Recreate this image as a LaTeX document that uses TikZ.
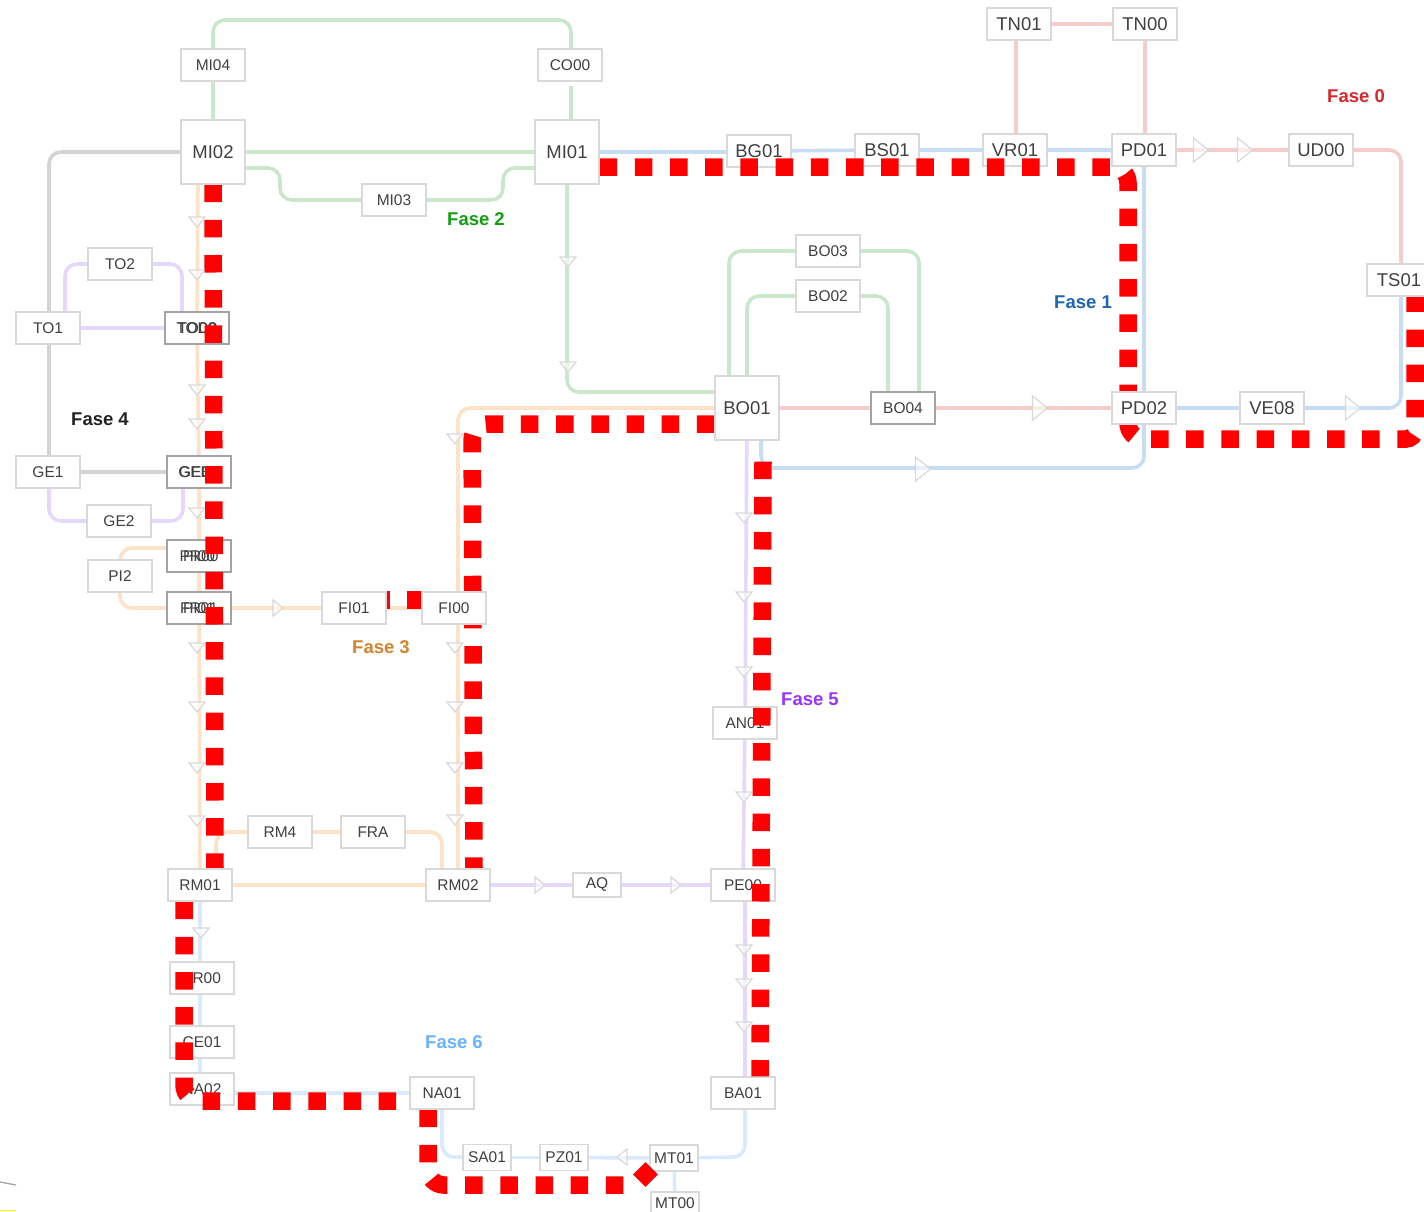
\documentclass[tikz,border=0pt]{standalone}
\usepackage{fontspec}
\setmainfont{Liberation Sans}
\definecolor{boxgray}{HTML}{D9D9D9}
\definecolor{boxdark}{HTML}{A3A3A3}
\definecolor{textgray}{HTML}{404040}
\definecolor{linegreen}{HTML}{CBE7CB}
\definecolor{lineblue}{HTML}{C6DDF4}
\definecolor{linepink}{HTML}{F5CCCC}
\definecolor{lineorange}{HTML}{FDE2C8}
\definecolor{linepurple}{HTML}{E6D8FC}
\definecolor{linegray}{HTML}{D4D4D4}
\definecolor{linesky}{HTML}{D9EAFC}
\pgfdeclarelayer{edges}
\pgfdeclarelayer{top}
\pgfsetlayers{edges,main,top}
\tikzset{
  flowbox/.style={draw=boxgray,fill=white,line width=1.2pt,minimum width=64pt,minimum height=32pt,inner sep=0pt,text=textgray,font=\fontsize{15.5}{18}\selectfont},
  bigbox/.style={flowbox,font=\fontsize{18.5}{22}\selectfont},
  tallbox/.style={bigbox,minimum height=64pt},
  narrowbox/.style={flowbox,minimum width=48pt,minimum height=26pt},
  stackbox/.style={flowbox,draw=boxdark},
  stacktext/.style={flowbox,draw=boxdark,fill=none},
  flowedge/.style={line width=3.6pt,rounded corners=12pt},
  flowpath/.style={draw=red,line width=17.5pt,dash pattern=on 17.5pt off 17.7pt,rounded corners=16pt},
  phaselabel/.style={font=\fontsize{18.5}{22}\selectfont\bfseries,inner sep=0pt},
  flowtri/.pic={\draw[draw=boxgray,line width=1.2pt,fill=white,fill opacity=0.6] (-8,-5) -- (8,-5) -- (0,5) -- cycle;}
}

\begin{document}
\begin{tikzpicture}[x=1pt,y=-1pt]
    \useasboundingbox (0,0) rectangle (1424,1211);

    % -- Boxes the highlighted route runs over --
    \node[narrowbox,minimum height=23pt] (mt00) at (675,1203.5) {MT00};
    \node[flowbox] (mi04) at (213,65) {MI04};
    \node[flowbox] (co00) at (570,65) {CO00};
    \node[flowbox] (mi03) at (394,200) {MI03};
    \node[bigbox] (tn01) at (1019,24) {TN01};
    \node[bigbox] (tn00) at (1145,24) {TN00};
    \node[bigbox] (bg01) at (759,151) {BG01};
    \node[bigbox] (bs01) at (887,150) {BS01};
    \node[bigbox] (vr01) at (1015,150) {VR01};
    \node[bigbox] (ud00) at (1321,150) {UD00};
    \node[bigbox] (ve08) at (1272,408) {VE08};
    \node[flowbox] (bo03) at (828,251) {BO03};
    \node[flowbox] (bo02) at (828,296) {BO02};
    \node[stackbox] (bo04) at (903,408) {BO04};
    \node[flowbox] (to2) at (120,264) {TO2};
    \node[flowbox] (to1) at (48,328) {TO1};
    \node[stackbox] (to00) at (197,328) {TO00};
    \node[stacktext] (tod0) at (197,328) {TOD0};
    \node[flowbox] (ge1) at (48,472) {GE1};
    \node[flowbox] (ge2) at (119,521) {GE2};
    \node[stackbox] (ge00) at (199,472) {GE00};
    \node[stacktext] (ge0e) at (199,472) {GEE0};
    \node[flowbox] (pi2) at (120,576) {PI2};
    \node[stackbox] (pi00) at (199,556) {PI00};
    \node[stacktext] (pr00) at (199,556) {PR00};
    \node[stackbox] (pi01) at (199,608) {PI01};
    \node[stacktext] (fr01) at (199,608) {FR01};
    \node[flowbox] (rm4) at (280,832) {RM4};
    \node[flowbox] (fra) at (373,832) {FRA};
    \node[narrowbox,minimum height=24pt] (aq) at (597,885) {AQ};
    \node[flowbox] (an01) at (745,723) {AN01};
    \node[flowbox] (pe00) at (743,885) {PE00};
    \node[flowbox] (fr00) at (202,978) {FR00};
    \node[flowbox] (ce01) at (202,1042) {CE01};
    \node[flowbox] (na02) at (202,1089) {NA02};
    \node[flowbox] (ba01) at (743,1093) {BA01};
    \node[narrowbox] (sa01) at (487,1157.5) {SA01};
    \node[narrowbox] (pz01) at (564,1157.5) {PZ01};
    \node[narrowbox] (mt01) at (674,1158) {MT01};

    % -- Boxes that sit over the route --
    \begin{pgfonlayer}{top}
    \node[tallbox] (mi02) at (213,152) {MI02};
    \node[tallbox] (mi01) at (567,152) {MI01};
    \node[tallbox] (bo01) at (747,408) {BO01};
    \node[bigbox] (pd01) at (1144,150) {PD01};
    \node[bigbox] (pd02) at (1144,408) {PD02};
    \node[bigbox] (ts01) at (1399,280) {TS01};
    \node[flowbox] (fi01) at (354,608) {FI01};
    \node[flowbox] (fi00) at (454,608) {FI00};
    \node[flowbox] (rm01) at (200,885) {RM01};
    \node[flowbox] (rm02) at (458,885) {RM02};
    \node[flowbox] (na01) at (442,1093) {NA01};
    \end{pgfonlayer}

    % -- Phase labels --
    \node[phaselabel,text={rgb,255:red,217;green,38;blue,44}] (fase0) at (1356,96) {Fase 0};
    \node[phaselabel,text={rgb,255:red,31;green,102;blue,176}] (fase1) at (1083,302) {Fase 1};
    \node[phaselabel,text={rgb,255:red,18;green,160;blue,18}] (fase2) at (476,219) {Fase 2};
    \node[phaselabel,text={rgb,255:red,217;green,130;blue,43}] (fase3) at (381,647) {Fase 3};
    \node[phaselabel,text={rgb,255:red,34;green,34;blue,34}] (fase4) at (100,419) {Fase 4};
    \node[phaselabel,text={rgb,255:red,153;green,51;blue,255}] (fase5) at (810,699) {Fase 5};
    \node[phaselabel,text={rgb,255:red,102;green,178;blue,255}] (fase6) at (454,1042) {Fase 6};

    \begin{pgfonlayer}{edges}
    % -- Fase 2 --
    \draw[flowedge,linegreen] (mi02) -- (mi04) -- (213,20) -- (571,20) -- ([xshift=1pt]co00.north);
    \draw[flowedge,linegreen] ([xshift=1pt,yshift=-4pt]co00.south) -- ([xshift=4pt]mi01.north);
    \draw[flowedge,linegreen] (mi02) -- (mi01);
    \draw[flowedge,linegreen] ([yshift=-16pt]mi02.east) -- (280,168) -- (280,200) -- (mi03);
    \draw[flowedge,linegreen] (mi03) -- (503,200) -- (503,168) -- ([yshift=-16pt]mi01.west);
    \draw[flowedge,linegreen] (mi01) -- (567,392) -- ([yshift=16pt]bo01.west);
    \draw[flowedge,linegreen] ([xshift=-18pt]bo01.north) -- (729,251) -- (bo03);
    \draw[flowedge,linegreen] (bo03) -- (919,251) -- ([xshift=16pt]bo04.north);
    \draw[flowedge,linegreen] (bo01) -- (747,296) -- (bo02);
    \draw[flowedge,linegreen] (bo02) -- (888,296) -- ([xshift=-15pt]bo04.north);

    % -- Fase 1 --
    \draw[flowedge,lineblue] (mi01) -- ([yshift=-1pt]bg01.west);
    \draw[flowedge,lineblue] (bg01) -- (bs01);
    \draw[flowedge,lineblue] (bs01) -- (vr01);
    \draw[flowedge,lineblue] (vr01) -- (pd01);
    \draw[flowedge,lineblue] (pd01) -- (pd02);
    \draw[flowedge,lineblue] (pd02) -- (ve08);
    \draw[flowedge,lineblue] (ve08) -- (1401,408) -- ([xshift=2pt]ts01.south);
    \draw[flowedge,lineblue] ([xshift=14pt]bo01.south) -- (761,468) -- (1144,468) -- (pd02);

    % -- Fase 0 --
    \draw[flowedge,linepink] (tn01) -- (tn00);
    \draw[flowedge,linepink] ([xshift=-3pt]tn01.south) -- ([xshift=1pt]vr01.north);
    \draw[flowedge,linepink] (tn00) -- ([xshift=1pt]pd01.north);
    \draw[flowedge,linepink] (pd01) -- (ud00);
    \draw[flowedge,linepink] (ud00) -- (1401,150) -- ([xshift=2pt]ts01.north);
    \draw[flowedge,linepink] (bo01) -- (bo04);
    \draw[flowedge,linepink] (bo04) -- (pd02);

    % -- Fase 3 --
    \draw[flowedge,lineorange] ([xshift=-15pt]mi02.south) -- (to00) -- (ge00) -- (pi00) -- (pi01) -- (rm01);
    \draw[flowedge,lineorange] ([yshift=8pt]pi00.west) -- (120,548) -- (pi2);
    \draw[flowedge,lineorange] (pi2) -- (120,608) -- (pi01);
    \draw[flowedge,lineorange] (pi01) -- (fi01);
    \draw[flowedge,lineorange] (fi01) -- (fi00);
    \draw[flowedge,lineorange] (bo01) -- (458,408) -- ([xshift=4pt]fi00.north);
    \draw[flowedge,lineorange] ([xshift=4pt]fi00.south) -- (rm02);
    \draw[flowedge,lineorange] (rm01) -- (rm02);
    \draw[flowedge,lineorange] ([xshift=16pt]rm01.north) -- (216,832) -- (rm4);
    \draw[flowedge,lineorange] (rm4) -- (fra);
    \draw[flowedge,lineorange] (fra) -- (442,832) -- ([xshift=-16pt]rm02.north);

    % -- Fase 4 --
    \draw[flowedge,linegray] (mi02) -- (49,152) -- ([xshift=1pt]to1.north);
    \draw[flowedge,linegray] ([xshift=1pt]to1.south) -- ([xshift=1pt]ge1.north);
    \draw[flowedge,linegray] (ge1) -- (ge00);
    \draw[flowedge,linepurple] (to1) -- (to00);
    \draw[flowedge,linepurple] ([xshift=17pt]to1.north) -- (65,264) -- (to2);
    \draw[flowedge,linepurple] (to2) -- (182,264) -- ([xshift=-15pt]to00.north);
    \draw[flowedge,linepurple] ([xshift=1pt]ge1.south) -- (49,521) -- (ge2);
    \draw[flowedge,linepurple] (ge2) -- (183,521) -- ([xshift=-16pt]ge00.south);

    % -- Fase 5 --
    \draw[flowedge,linepurple] (rm02) -- (aq);
    \draw[flowedge,linepurple] (aq) -- (pe00);
    \draw[flowedge,linepurple] (bo01) -- (an01);
    \draw[flowedge,linepurple] (an01) -- (pe00);
    \draw[flowedge,linepurple] ([xshift=2pt]pe00.south) -- ([xshift=2pt]ba01.north);

    % -- Fase 6 --
    \draw[flowedge,linesky] (rm01) -- ([xshift=-2pt]fr00.north);
    \draw[flowedge,linesky] ([xshift=-2pt]fr00.south) -- ([xshift=-2pt]ce01.north);
    \draw[flowedge,linesky] ([xshift=-2pt]ce01.south) -- ([xshift=-2pt]na02.north);
    \draw[flowedge,linesky] ([yshift=-4pt]na02.east) -- (na01);
    \draw[flowedge,linesky] ([xshift=2pt]ba01.south) -- (745,1157) -- (mt01);
    \draw[flowedge,linesky] (mt01) -- (pz01);
    \draw[flowedge,linesky] (pz01) -- (sa01);
    \draw[flowedge,linesky] (sa01) -- (442,1157) -- (na01);
    \draw[flowedge,linesky] (mt01) -- (mt00);

    % -- Flow markers --
    \foreach \ypos in {222,275,390,424,513,648,707,768,821}
      \pic at (197,\ypos) {flowtri};
    \foreach \ypos in {439,648,707,768,820}
      \pic at (455,\ypos) {flowtri};
    \foreach \ypos in {262,367}
      \pic at (568,\ypos) {flowtri};
    \foreach \ypos in {518,597,672,797,950,984,1027}
      \pic at (744,\ypos) {flowtri};
    \pic at (201,933) {flowtri};
    \foreach \xpos/\ypos in {278/608,540/885,676/885}
      \pic[rotate=90] at (\xpos,\ypos) {flowtri};
    \pic[rotate=-90] at (622,1157) {flowtri};
    \foreach \xpos/\ypos in {923/469,1040/408,1353/408,1201/150,1245/150}
      \pic[rotate=90,scale=1.5] at (\xpos,\ypos) {flowtri};
    \end{pgfonlayer}

    % -- Highlighted route --
    \draw[flowpath] ([yshift=-15pt]mi01.east) -- (1128,167) -- (1128,439) [rounded corners=9pt] -- (1415,439) -- ([xshift=16pt]ts01.south);
    \draw[flowpath] (mi02.south) -- ([xshift=15pt]rm01.north);
    \draw[flowpath] ([yshift=-16pt]bo01.west) -- (472,424) -- ([xshift=16pt]rm02.north);
    \draw[flowpath] ([xshift=16pt,yshift=-21pt]bo01.south) -- ([xshift=17pt]ba01.north);
    \draw[flowpath] ([xshift=-16pt]rm01.south) -- (184,1101) -- ([yshift=-8pt]na01.west);
    \draw[flowpath] ([xshift=-14pt]na01.south) -- (428,1185) [sharp corners] -- (635,1185) -- (652,1168);
    \draw[flowpath] ([xshift=-14.5pt,yshift=8pt]fi01.east) -- ([yshift=8pt]fi00.west);

    % -- Scraps at the lower left --
    \draw[boxdark,line width=1.3pt] (0,1182) -- (16,1185);
    \draw[yellow,line width=1.3pt] (0,1210.3) -- (16,1210.3);

\end{tikzpicture}
\end{document}
